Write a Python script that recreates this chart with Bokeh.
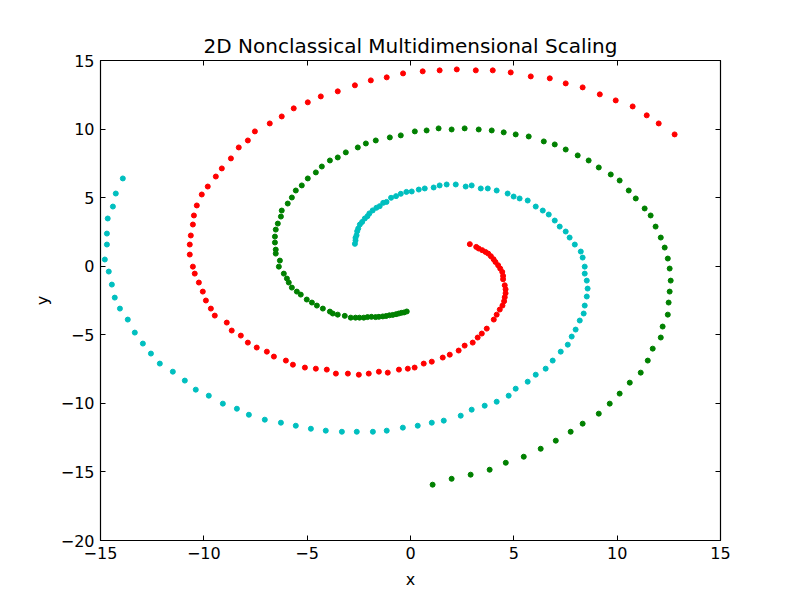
from bokeh.plotting import figure
from bokeh.models import Range1d, FixedTicker, LinearAxis, Title
from bokeh.embed import file_html
from bokeh.resources import INLINE

# values, ordered from inner end to outer end
red_x = [2.87, 3.18, 3.30, 3.47, 3.63, 3.76, 3.89, 4.02, 4.11, 4.24, 4.34, 4.44, 4.48, 4.48,
         4.56, 4.60, 4.60, 4.56, 4.53, 4.45, 4.32, 4.17, 4.03, 3.69, 3.45, 3.25, 3.01, 2.62,
         2.33, 1.90, 1.56, 1.03, 0.64, 0.20, -0.13, -0.56, -1.10, -1.53, -2.02, -2.50, -3.03,
         -3.61, -4.05, -4.58, -5.11, -5.69, -6.03, -6.61, -6.95, -7.44, -7.87, -8.21, -8.65,
         -8.89, -9.47, -9.66, -9.90, -10.05, -10.24, -10.44, -10.53, -10.68, -10.68, -10.63,
         -10.53, -10.48, -10.34, -10.10, -9.81, -9.42, -9.13, -8.69, -8.31, -7.87, -7.53, -6.81,
         -6.23, -5.65, -4.97, -4.34, -3.52, -2.69, -1.92, -1.15, -0.36, 0.59, 1.41, 2.24, 3.16,
         3.98, 4.85, 5.82, 6.74, 7.51, 8.33, 9.16, 9.93, 10.75, 11.43, 12.01, 12.78]
red_y = [1.61, 1.41, 1.29, 1.17, 1.04, 0.92, 0.73, 0.51, 0.31, 0.07, -0.17, -0.42, -0.71, -0.95,
         -1.39, -1.68, -1.97, -2.26, -2.55, -2.87, -3.16, -3.53, -3.89, -4.55, -4.91, -5.20,
         -5.57, -5.79, -6.15, -6.45, -6.66, -6.96, -7.10, -7.39, -7.47, -7.54, -7.76, -7.69,
         -7.83, -7.91, -7.83, -7.83, -7.54, -7.47, -7.39, -7.18, -6.88, -6.59, -6.23, -5.93,
         -5.57, -5.06, -4.69, -4.11, -3.60, -3.09, -2.50, -1.85, -1.19, -0.54, -0.03, 0.85, 1.58,
         2.24, 3.04, 3.70, 4.43, 5.23, 5.81, 6.54, 7.13, 7.86, 8.66, 9.17, 9.83, 10.41, 10.92,
         11.51, 11.95, 12.38, 12.75, 13.19, 13.55, 13.77, 14.06, 14.21, 14.28, 14.35, 14.28,
         14.28, 14.13, 13.84, 13.70, 13.33, 13.04, 12.53, 12.09, 11.65, 11.00, 10.41, 9.61]

green_x = [-0.18, -0.31, -0.44, -0.57, -0.70, -0.86, -1.02, -1.18, -1.34, -1.53, -1.69, -1.89,
           -2.08, -2.26, -2.47, -2.66, -2.89, -3.18, -3.52, -3.76, -3.90, -4.24, -4.53, -4.77,
           -5.02, -5.31, -5.50, -5.74, -5.89, -5.98, -6.13, -6.37, -6.32, -6.52, -6.52, -6.56,
           -6.56, -6.52, -6.42, -6.27, -6.23, -5.94, -5.74, -5.55, -5.26, -4.97, -4.58, -4.29,
           -3.90, -3.52, -3.13, -2.55, -2.16, -1.68, -1.00, -0.47, 0.21, 0.78, 1.36, 1.99, 2.62,
           3.30, 3.93, 4.51, 5.09, 5.72, 6.45, 6.98, 7.51, 8.09, 8.62, 9.11, 9.69, 10.12, 10.56,
           10.90, 11.33, 11.62, 11.86, 12.11, 12.30, 12.45, 12.54, 12.59, 12.54, 12.49, 12.45,
           12.20, 12.11, 11.72, 11.48, 11.14, 10.61, 10.12, 9.64, 9.11, 8.33, 7.75, 7.03, 6.30,
           5.48, 4.61, 3.83, 2.91, 1.99, 1.07]
green_y = [-3.30, -3.37, -3.40, -3.45, -3.50, -3.55, -3.58, -3.63, -3.66, -3.69, -3.71, -3.69,
           -3.71, -3.75, -3.75, -3.75, -3.75, -3.62, -3.53, -3.45, -3.31, -3.09, -2.87, -2.65,
           -2.43, -2.07, -1.85, -1.56, -1.19, -0.90, -0.54, -0.03, 0.41, 0.92, 1.21, 1.73, 2.16,
           2.67, 3.11, 3.62, 4.06, 4.57, 5.01, 5.52, 5.89, 6.40, 6.84, 7.27, 7.71, 7.93, 8.30,
           8.66, 8.95, 9.17, 9.39, 9.54, 9.83, 9.90, 10.05, 9.97, 10.05, 9.97, 9.90, 9.76, 9.61,
           9.46, 9.10, 8.88, 8.51, 8.08, 7.71, 7.20, 6.69, 6.25, 5.52, 4.94, 4.21, 3.70, 2.89,
           2.09, 1.36, 0.56, -0.17, -1.05, -1.85, -2.65, -3.53, -4.40, -5.20, -6.01, -6.88,
           -7.76, -8.49, -9.29, -10.02, -10.75, -11.48, -12.07, -12.72, -13.31, -13.89, -14.33,
           -14.84, -15.20, -15.50, -15.93]

cyan_x = [-2.69, -2.66, -2.66, -2.61, -2.58, -2.53, -2.45, -2.34, -2.21, -2.08, -1.99, -1.83,
          -1.65, -1.49, -1.32, -1.16, -0.94, -0.70, -0.47, -0.20, 0.06, 0.40, 0.69, 1.12, 1.41,
          1.75, 2.19, 2.67, 2.96, 3.40, 3.74, 4.17, 4.70, 4.99, 5.28, 5.67, 6.06, 6.40, 6.69,
          6.98, 7.22, 7.51, 7.70, 7.95, 8.24, 8.33, 8.43, 8.43, 8.53, 8.57, 8.53, 8.43, 8.38,
          8.19, 7.99, 7.80, 7.61, 7.27, 6.88, 6.54, 6.06, 5.67, 5.09, 4.75, 4.17, 3.59, 2.96,
          2.43, 1.61, 1.03, 0.35, -0.37, -1.15, -1.82, -2.60, -3.32, -4.10, -4.82, -5.55, -6.27,
          -7.05, -7.82, -8.40, -9.08, -9.76, -10.39, -10.92, -11.50, -12.13, -12.56, -12.95,
          -13.34, -13.68, -14.06, -14.31, -14.45, -14.60, -14.79, -14.69, -14.69, -14.65,
          -14.40, -14.26, -13.92]
cyan_y = [1.63, 1.88, 2.07, 2.26, 2.55, 2.75, 3.04, 3.23, 3.48, 3.65, 3.85, 4.07, 4.26, 4.38,
          4.62, 4.69, 4.99, 5.11, 5.28, 5.42, 5.45, 5.59, 5.67, 5.74, 5.89, 5.96, 5.96, 5.81,
          5.89, 5.67, 5.67, 5.52, 5.30, 5.08, 4.94, 4.79, 4.35, 4.06, 3.77, 3.33, 2.89, 2.53,
          2.09, 1.58, 1.07, 0.63, -0.03, -0.54, -1.05, -1.63, -2.21, -2.87, -3.45, -3.96, -4.62,
          -5.13, -5.72, -6.23, -6.88, -7.47, -7.91, -8.42, -8.93, -9.44, -9.88, -10.17, -10.46,
          -10.90, -11.26, -11.41, -11.63, -11.77, -11.99, -12.07, -12.07, -12.07, -11.99,
          -11.85, -11.63, -11.41, -11.19, -10.83, -10.39, -10.02, -9.44, -9.00, -8.34, -7.69,
          -7.10, -6.37, -5.64, -4.84, -3.89, -3.09, -2.29, -1.34, -0.39, 0.49, 1.58, 2.38, 3.48,
          4.35, 5.30, 6.40]

x_ticks = [-15, -10, -5, 0, 5, 10, 15]
y_ticks = [-20, -15, -10, -5, 0, 5, 10, 15]

FONT = "DejaVu Sans"

def minus(ticks):
    return {t: str(t).replace("-", "\u2212") for t in ticks}

p = figure(frame_width=620, frame_height=480, output_backend="svg", toolbar_location=None,
           x_range=Range1d(-15, 15), y_range=Range1d(-20, 15), title=None,
           min_border_left=100, min_border_right=72, min_border_top=60, min_border_bottom=52,
           x_axis_location=None, y_axis_location=None)
p.grid.visible = False
p.outline_line_color = "black"
p.outline_line_width = 1.2
p.background_fill_color = "white"
p.border_fill_color = "white"

def make_axis(ticks, label, show):
    ax = LinearAxis(ticker=FixedTicker(ticks=ticks))
    ax.axis_line_color = None
    ax.major_tick_in = 5
    ax.major_tick_out = 0
    ax.major_tick_line_color = "black"
    ax.minor_tick_line_color = None
    if show:
        ax.major_label_overrides = minus(ticks)
        ax.major_label_text_font = FONT
        ax.major_label_text_font_size = "16px"
        ax.major_label_text_color = "black"
        ax.major_label_standoff = 6
        ax.axis_label = label
        ax.axis_label_text_font = FONT
        ax.axis_label_text_font_size = "16px"
        ax.axis_label_text_font_style = "normal"
        ax.axis_label_text_color = "black"
        ax.axis_label_standoff = 8
    else:
        ax.major_label_text_color = None
        ax.major_label_text_font_size = "1px"
        ax.major_label_standoff = 0
    return ax

p.add_layout(make_axis(x_ticks, "x", True), "below")
yax = make_axis(y_ticks, "y", True)
yax.axis_label_standoff = 6
p.add_layout(yax, "left")
p.add_layout(make_axis(x_ticks, None, False), "above")
p.add_layout(make_axis(y_ticks, None, False), "right")

p.add_layout(Title(text="2D Nonclassical Multidimensional Scaling", align="center",
                   text_font=FONT, text_font_size="20px", text_font_style="normal",
                   text_color="black", standoff=6), "above")

p.scatter(red_x, red_y, size=5, color="#ff0000")
p.scatter(green_x, green_y, size=5, color="#008000")
p.scatter(cyan_x, cyan_y, size=5, color="#00bfbf")

open("out.html", "w").write(file_html(p, INLINE))
